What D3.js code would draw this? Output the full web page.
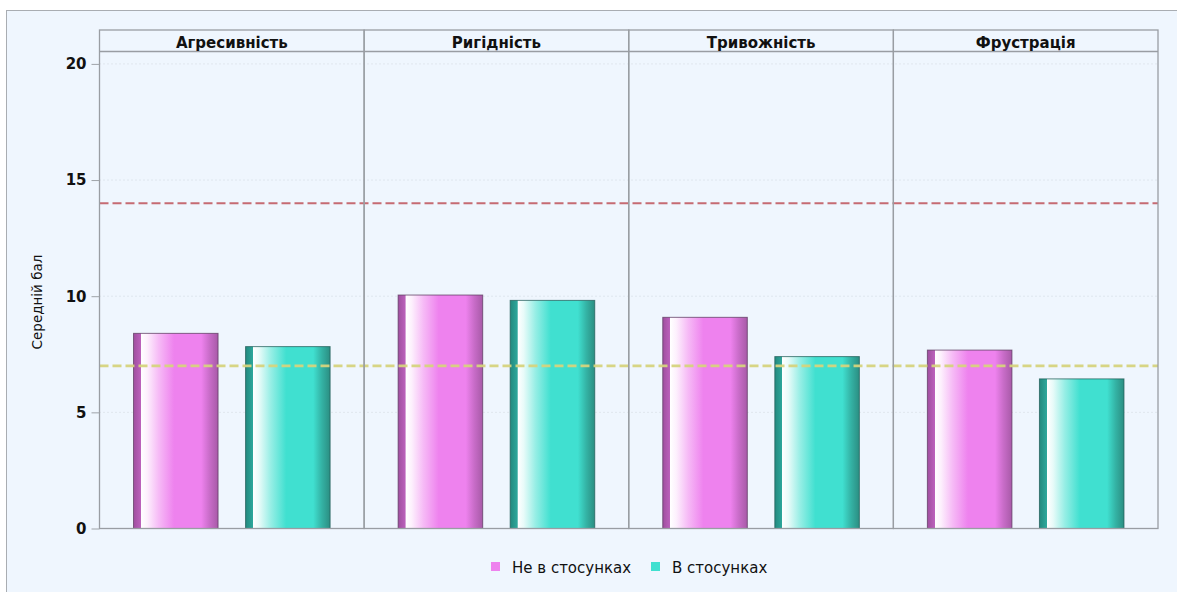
<!DOCTYPE html>
<html>
<head>
<meta charset="utf-8">
<script src="https://cdn.jsdelivr.net/npm/d3@7"></script>
<style>
  html, body { margin: 0; padding: 0; background: #ffffff; }
  svg { display: block; }
</style>
</head>
<body>
<svg id="chart" width="1177" height="592"></svg>
<script>
// Scale categories (panels)
const categories = ["Агресивність", "Ригідність", "Тривожність", "Фрустрація"];
// Groups within each panel
const groups = ["Не в стосунках", "В стосунках"];
// Mean scores per category
const notInRelationship = [8.40, 10.05, 9.09, 7.68];
const inRelationship = [7.83, 9.82, 7.40, 6.44];
// Reference levels
const referenceLines = [
  { value: 14, color: "#c4646c", width: 2 },
  { value: 7, color: "#d6d47e", width: 2.6 }
];
const yTicks = [0, 5, 10, 15, 20];
const yTitle = "Середній бал";

const groupStyles = [
  { base: "#ee82ee", edge: "#9f4f9f", edgeR: "#a85aa8", stroke: "#5e3a60" },
  { base: "#40e0d0", edge: "#23897e", edgeR: "#2b8e82", stroke: "#205e58" }
];

const W = 1177, H = 592;
const plot = { left: 99.5, right: 1158, top: 51.5, bottom: 528.5, headerTop: 30 };
const bg = "#eff6fe";
const font = "'DejaVu Sans', sans-serif";

const svg = d3.select("#chart");

// Background frame
svg.append("rect").attr("x", 6.5).attr("y", 10.5).attr("width", W).attr("height", H)
  .attr("fill", bg).attr("stroke", "#a9adb2").attr("stroke-width", 1);

// Gradients for the shaded bars
const defs = svg.append("defs");
groupStyles.forEach((s, i) => {
  const g = defs.append("linearGradient").attr("id", "grad" + i)
    .attr("x1", "0").attr("x2", "1").attr("y1", "0").attr("y2", "0");
  const stops = [
    [0, s.edge], [0.085, d3.interpolateRgb(s.edge, s.base)(0.35)],
    [0.09, "#ffffff"], [0.16, d3.interpolateRgb("#ffffff", s.base)(0.12)],
    [0.30, d3.interpolateRgb("#ffffff", s.base)(0.55)],
    [0.48, s.base], [0.80, s.base],
    [0.90, d3.interpolateRgb(s.base, s.edgeR)(0.55)], [1, s.edgeR]
  ];
  stops.forEach(([o, c]) => g.append("stop").attr("offset", o).attr("stop-color", c));
});

// Scales
const panel = d3.scaleBand().domain(categories).range([plot.left, plot.right]).padding(0);
const x = d3.scaleBand().domain(groups).range([0, panel.bandwidth()])
  .paddingInner(0.2455).paddingOuter(0.3036);
const y = d3.scaleLinear().domain([0, (plot.bottom - plot.top) / 23.23]).range([plot.bottom, plot.top]);

// Gridlines
svg.append("g").selectAll("line").data(yTicks.filter(d => d > 0)).join("line")
  .attr("x1", plot.left).attr("x2", plot.right)
  .attr("y1", d => y(d)).attr("y2", d => y(d))
  .attr("stroke", "#cfd6de").attr("stroke-width", 1).attr("stroke-dasharray", "1,3");

// Bars
const series = [notInRelationship, inRelationship];
categories.forEach((cat, ci) => {
  const gp = svg.append("g").attr("transform", `translate(${panel(cat)},0)`);
  groups.forEach((grp, gi) => {
    const v = series[gi][ci];
    gp.append("rect")
      .attr("x", x(grp)).attr("y", y(v))
      .attr("width", x.bandwidth()).attr("height", y(0) - y(v))
      .attr("fill", `url(#grad${gi})`)
      .attr("stroke", groupStyles[gi].stroke).attr("stroke-opacity", 0.75).attr("stroke-width", 1);
  });
});

// Reference lines
svg.append("g").selectAll("line").data(referenceLines).join("line")
  .attr("x1", plot.left).attr("x2", plot.right)
  .attr("y1", d => y(d.value)).attr("y2", d => y(d.value))
  .attr("stroke", d => d.color).attr("stroke-width", d => d.width).attr("stroke-dasharray", "9,4")
  .attr("opacity", 0.95);

// Panel frames and headers
categories.forEach(cat => {
  svg.append("rect").attr("x", panel(cat)).attr("y", plot.headerTop)
    .attr("width", panel.bandwidth()).attr("height", plot.bottom - plot.headerTop)
    .attr("fill", "none").attr("stroke", "#999da3").attr("stroke-width", 1.3);
  svg.append("line").attr("x1", panel(cat)).attr("x2", panel(cat) + panel.bandwidth())
    .attr("y1", plot.top).attr("y2", plot.top)
    .attr("stroke", "#999da3").attr("stroke-width", 1.3);
  svg.append("text").attr("x", panel(cat) + panel.bandwidth() / 2).attr("y", 47.5)
    .attr("text-anchor", "middle").attr("font-family", font).attr("font-weight", "bold")
    .attr("font-size", 15).attr("fill", "#111").text(cat);
});

// Y axis
const yAxis = d3.axisLeft(y).tickValues(yTicks).tickSize(8).tickPadding(5).tickFormat(d3.format("d"));
const ax = svg.append("g").attr("transform", `translate(${plot.left},0)`).call(yAxis);
ax.select(".domain").remove();
ax.selectAll(".tick line").attr("stroke", "#9ea3a8");
ax.selectAll(".tick text").attr("font-family", font).attr("font-weight", "bold")
  .attr("font-size", 15).attr("fill", "#111");

svg.append("text").attr("transform", `translate(42,302) rotate(-90)`)
  .attr("text-anchor", "middle").attr("font-family", font).attr("font-size", 13.5)
  .attr("fill", "#111").text(yTitle);

// Legend
const legendX = [491, 651];
groups.forEach((grp, gi) => {
  svg.append("rect").attr("x", legendX[gi]).attr("y", 562).attr("width", 9).attr("height", 9)
    .attr("fill", groupStyles[gi].base);
  svg.append("text").attr("x", legendX[gi] + 21).attr("y", 573)
    .attr("font-family", font).attr("font-size", 15).attr("fill", "#111").text(grp);
});
</script>
</body>
</html>
